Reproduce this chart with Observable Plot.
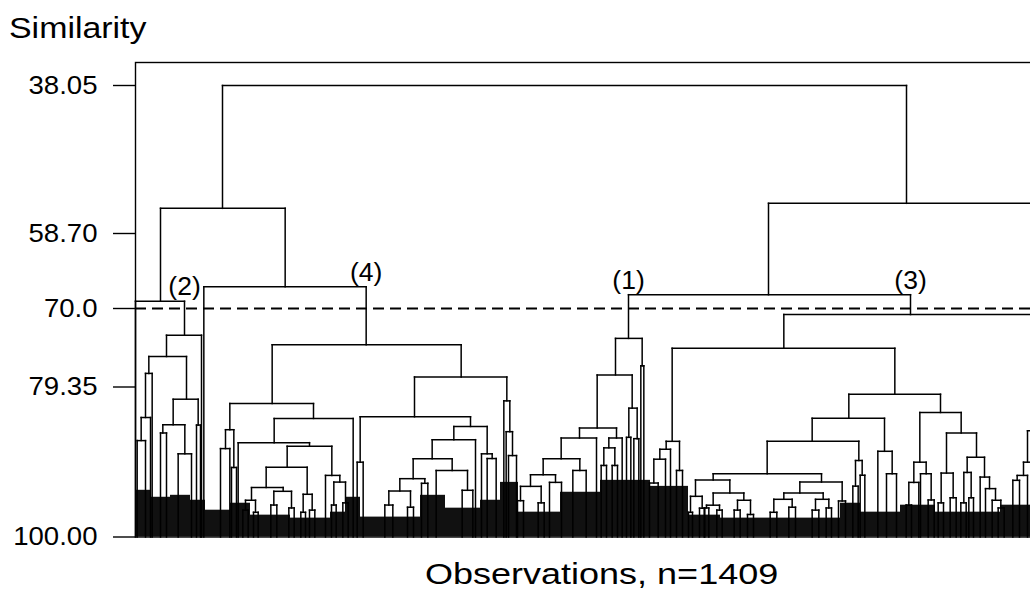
<!DOCTYPE html>
<html><head><meta charset="utf-8">
<script src="https://cdn.jsdelivr.net/npm/d3@7"></script>
<script src="https://cdn.jsdelivr.net/npm/@observablehq/plot@0.6"></script>
<style>
html,body{margin:0;padding:0;background:#fff;overflow:hidden;}
#wrap{position:relative;width:1030px;height:592px;overflow:hidden;background:#fff;}
#wrap svg{position:absolute;left:0;top:0;}
.lbl{position:absolute;font-family:"Liberation Sans",Arial,sans-serif;color:#000;white-space:nowrap;line-height:1;transform-origin:left top;}
</style></head>
<body><div id="wrap"></div>
<script>
// ---------- data ----------
const nObservations = 1409;
const tickValues = [38.05, 58.70, 70.0, 79.35, 100.00];
const tickLabels = ["38.05", "58.70", "70.0", "79.35", "100.00"];
const cutLevel = 70.0;
const clusterNames = ["(2)", "(4)", "(1)", "(3)"];
const clusterNodes = ["A1b", "A2b", "C1", "C3"];

// rows: [node id, parent id, position in leaf order (observation), similarity]
const upperNodes = [
  ["R", null, 643.5, 38.05],
  ["A", "R", 130.5, 55.19],
  ["B", "R", 1156.5, 54.49],
  ["A1", "A", 37.5, 68.91],
  ["A2", "A", 224.5, 66.73],
  ["B1", "B", 949.5, 67.92],
  [null, "B", 1365, 100]
];
const cluster2Nodes = [
  [null, "A1", 0, 100],
  ["A1b", "A1", 73.5, 73.18],
  ["a1", "A1b", 46.5, 75.72],
  ["a11", "a1", 20, 77.73],
  ["a111", "a11", 15, 83.55],
  ["a1111", "a111", 8.5, 86.73],
  [null, "a1111", 2.5, 100], [null, "a1111", 15, 100],
  [null, "a111", 22.5, 100],
  [null, "a11", 25, 100],
  ["a12", "a1", 76.5, 81.03],
  ["a121", "a12", 56.5, 84.55],
  ["a1211", "a121", 41, 85.68],
  [null, "a1211", 37.5, 100], [null, "a1211", 46.5, 100],
  ["a1212", "a121", 74, 88.55],
  [null, "a1212", 64, 100], [null, "a1212", 84, 100],
  ["a122", "a12", 94, 84.59],
  [null, "a122", 91.5, 100], [null, "a122", 97.5, 100],
  [null, "A1b", 99, 100]
];
const cluster4Nodes = [
  [null, "A2", 102.5, 100],
  ["A2b", "A2", 346, 74.32],
  ["b1", "A2b", 205, 81.63],
  ["b11", "b1", 141.5, 85.23],
  ["b111", "b11", 135, 87.83],
  [null, "b111", 127.5, 100], [null, "b111", 141.5, 100],
  ["b112", "b11", 147.5, 90.43],
  [null, "b112", 144, 100], [null, "b112", 151.5, 100],
  ["b12", "b1", 267, 83.68],
  ["b121", "b12", 208, 87.01],
  [null, "b121", 154, 100],
  ["b1212", "b121", 261, 87.51],
  ["b12121", "b1212", 227.5, 90.39],
  ["b121211", "b12121", 196, 93.20],
  ["b1212111", "b121211", 174, 94.94],
  ["f1", "b1212111", 165, 96.3], [null, "f1", 161, 100], [null, "f1", 169, 100],
  ["f2", "b1212111", 180, 96.6], [null, "f2", 177, 100], [null, "f2", 184, 100],
  ["b1212112", "b121211", 221.5, 93.71],
  ["f3", "b1212112", 207.5, 95.6], [null, "f3", 203, 100], [null, "f3", 212, 100],
  ["f4", "b1212112", 234, 96.0], [null, "f4", 230, 100], [null, "f4", 238, 100],
  ["b121212", "b12121", 257.5, 94.12],
  ["f5", "b121212", 251.5, 96.6], [null, "f5", 248, 100], [null, "f5", 255, 100],
  ["f6", "b121212", 265, 96.3], [null, "f6", 261, 100], [null, "f6", 269, 100],
  ["b12122", "b1212", 294.5, 91.52],
  [null, "b12122", 285, 100],
  ["b121222", "b12122", 306.5, 92.44],
  ["f7", "b121222", 297.5, 95.6], [null, "f7", 294, 100], [null, "f7", 301, 100],
  ["f8", "b121222", 315, 95.3], [null, "f8", 311, 100], [null, "f8", 319, 100],
  [null, "b12", 326.5, 100],
  ["b2", "A2b", 488.5, 78.15],
  ["b21", "b2", 418.5, 83.45],
  ["b211", "b21", 337, 89.70],
  [null, "b211", 332.5, 100], [null, "b211", 341.5, 100],
  ["b212", "b21", 502.5, 84.78],
  ["b2121", "b212", 477.5, 86.60],
  ["b21211", "b2121", 445, 89.24],
  ["b212111", "b21211", 416.5, 91.97],
  ["b2121111", "b212111", 396.5, 93.67],
  ["f9", "b2121111", 380, 95.6], [null, "f9", 374, 100], [null, "f9", 386, 100],
  ["f10", "b2121111", 412.5, 95.9], [null, "f10", 408, 100], [null, "f10", 417, 100],
  ["b2121112", "b212111", 434, 92.61],
  [null, "b2121112", 429, 100], [null, "b2121112", 438.5, 100],
  ["b212112", "b21211", 475, 90.84],
  [null, "b212112", 451, 100],
  ["b2121122", "b212112", 498, 93.57],
  [null, "b2121122", 490, 100], [null, "b2121122", 506, 100],
  [null, "b2121", 510, 100],
  ["b2122", "b212", 527.5, 88.55],
  [null, "b2122", 519, 100],
  ["b21222", "b2122", 535, 89.2],
  [null, "b21222", 527.5, 100], [null, "b21222", 541, 100],
  ["b22", "b2", 557, 81.26],
  [null, "b22", 552.5, 100],
  ["b222", "b22", 561.5, 85.50],
  [null, "b222", 556, 100],
  ["b2222", "b222", 565.5, 88.79],
  [null, "b2222", 559.5, 100], [null, "b2222", 571.5, 100]
];
const cluster1Nodes = [
  ["C1", "B1", 739.5, 73.56],
  ["c1", "C1", 720, 77.91],
  ["c11", "c1", 692.5, 85.0],
  ["c111", "c11", 666, 86.37],
  ["c1111", "c111", 638.5, 89.24],
  ["c11111", "c1111", 611.5, 91.43],
  ["c111111", "c11111", 592.5, 93.03],
  ["g1", "c111111", 577.5, 95.0], [null, "g1", 573, 100], [null, "g1", 582, 100],
  ["g2", "c111111", 608.5, 95.3], [null, "g2", 604, 100], [null, "g2", 613, 100],
  ["c111112", "c11111", 630, 92.48],
  [null, "c111112", 621, 100], [null, "c111112", 639, 100],
  ["c11112", "c1111", 666.5, 90.84],
  [null, "c11112", 656, 100], [null, "c11112", 676, 100],
  [null, "c111", 691.5, 100],
  ["c112", "c11", 721.5, 86.37],
  ["c1121", "c112", 710, 87.73],
  ["c11211", "c1121", 702.5, 90.15],
  [null, "c11211", 698.5, 100], [null, "c11211", 706.5, 100],
  ["c11212", "c1121", 719, 90.15],
  [null, "c11212", 715, 100], [null, "c11212", 723, 100],
  [null, "c112", 730, 100],
  ["c12", "c1", 745, 82.26],
  ["c121", "c12", 740, 86.28],
  [null, "c121", 736.5, 100], [null, "c121", 743, 100],
  ["c122", "c12", 752.5, 86.46],
  [null, "c122", 747.5, 100], [null, "c122", 755, 100],
  ["c2", "C1", 760, 76.83],
  [null, "c2", 758, 100], [null, "c2", 762.5, 100]
];
const cluster3Nodes = [
  ["C3", "B1", 1162.5, 70.72],
  ["C3a", "C3", 972.5, 74.73],
  ["d1", "C3a", 805, 86.83],
  ["d11", "d1", 796, 87.92],
  ["d111", "d11", 786.5, 89.29],
  ["d1111", "d111", 777.5, 92.57],
  [null, "d1111", 771, 100], [null, "d1111", 784, 100],
  [null, "d111", 795, 100],
  [null, "d11", 802.5, 100],
  ["d12", "d1", 816, 90.84],
  [null, "d12", 811.5, 100], [null, "d12", 820.5, 100],
  ["d2", "C3a", 1139, 80.35],
  ["d21", "d2", 1070, 83.66],
  ["d211", "d21", 1015, 86.83],
  ["d2111", "d211", 947.5, 91.29],
  ["d21111", "d2111", 866.5, 92.14],
  ["d211111", "d21111", 840, 94.40],
  ["h1", "d211111", 832.5, 96.6], [null, "h1", 829.5, 100], [null, "h1", 835.5, 100],
  ["h2", "d211111", 850, 96.03], [null, "h2", 846, 100], [null, "h2", 854, 100],
  ["d211112", "d21111", 891.5, 93.94],
  ["d2111121", "d211112", 866.5, 95.62],
  ["h3", "d2111121", 856.5, 96.0], [null, "h3", 853, 100], [null, "h3", 860, 100],
  ["h4", "d2111121", 876, 96.3], [null, "h4", 872, 100], [null, "h4", 880, 100],
  ["d2111122", "d211112", 912.5, 94.94],
  ["h5", "d2111122", 903, 96.3], [null, "h5", 898, 100], [null, "h5", 907, 100],
  ["h6", "d2111122", 922.5, 96.9], [null, "h6", 918, 100], [null, "h6", 927, 100],
  ["d21112", "d2111", 1029, 92.44],
  ["d211121", "d21112", 996.5, 93.94],
  ["d2111211", "d211121", 972.5, 94.81],
  ["h7", "d2111211", 957.5, 96.6], [null, "h7", 952, 100], [null, "h7", 962, 100],
  ["h8", "d2111211", 985, 95.9], [null, "h8", 980, 100], [null, "h8", 990, 100],
  ["d2111212", "d211121", 1031.5, 94.81],
  ["h9", "d2111212", 1020, 96.3], [null, "h9", 1015, 100], [null, "h9", 1025, 100],
  ["h10", "d2111212", 1040, 96.0], [null, "h10", 1036, 100], [null, "h10", 1044, 100],
  ["d211122", "d21112", 1060, 95.04],
  [null, "d211122", 1054.5, 100], [null, "d211122", 1065, 100],
  ["d2112", "d211", 1085, 89.47],
  ["h11", "d2112", 1080, 93.0], [null, "h11", 1076, 100], [null, "h11", 1084, 100],
  ["h12", "d2112", 1090, 91.5], [null, "h12", 1087, 100], [null, "h12", 1094, 100],
  ["d212", "d21", 1123.5, 88.20],
  [null, "d212", 1113.5, 100],
  ["d2122", "d212", 1135, 91.29],
  [null, "d2122", 1126.5, 100], [null, "d2122", 1141.5, 100],
  ["d22", "d2", 1207.5, 82.86],
  ["d221", "d22", 1176.5, 89.70],
  ["d2211", "d221", 1167.5, 92.48],
  ["h13", "d2211", 1160, 95.6], [null, "h13", 1156, 100], [null, "h13", 1164, 100],
  [null, "d2211", 1175, 100],
  ["d2212", "d221", 1186, 91.29],
  [null, "d2212", 1177.5, 100],
  ["h14", "d2212", 1193.5, 94.9], [null, "h14", 1189, 100], [null, "h14", 1198, 100],
  ["d222", "d22", 1238.5, 85.68],
  ["d2221", "d222", 1216.5, 91.2],
  ["h15", "d2221", 1208.5, 95.3], [null, "h15", 1204, 100], [null, "h15", 1212, 100],
  ["h16", "d2221", 1226.5, 94.6], [null, "h16", 1222, 100], [null, "h16", 1231, 100],
  ["d2222", "d222", 1261.5, 89.02],
  ["d22221", "d2222", 1247.5, 91.11],
  ["h17", "d22221", 1242.5, 95.3], [null, "h17", 1238, 100], [null, "h17", 1246, 100],
  ["h18", "d22221", 1253.5, 94.6], [null, "h18", 1250, 100], [null, "h18", 1257, 100],
  ["d22222", "d2222", 1273.5, 91.75],
  [null, "d22222", 1267, 100],
  ["d222222", "d22222", 1281, 93.34],
  [null, "d222222", 1275, 100],
  ["d2222222", "d222222", 1290, 94.94],
  [null, "d2222222", 1285, 100],
  ["d22222222", "d2222222", 1298, 96.0],
  [null, "d22222222", 1294, 100], [null, "d22222222", 1303, 100],
  ["C3b", "C3", 1353, 78],
  ["e1", "C3b", 1347, 85.37],
  ["e11", "e1", 1338, 89.70],
  ["e111", "e11", 1332, 91.52],
  ["e1111", "e111", 1322.5, 92.2],
  [null, "e1111", 1316, 100], [null, "e1111", 1326, 100],
  [null, "e111", 1338, 100],
  [null, "e11", 1343, 100],
  [null, "e1", 1355, 100],
  [null, "C3b", 1360, 100]
];
// densely packed low-level merges (too fine to resolve): observation span edges and top similarity
const denseEdges = [0, 22.5, 52.5, 82.5, 105, 142.5, 172.5, 232.5, 292.5, 315, 337.5, 427.5, 465, 517.5, 547.5,
  574.5, 637.5, 697.5, 772.5, 829.5, 877.5, 1057.5, 1087.5, 1147.5, 1200, 1297.5, 1409];
const denseTop = [93.57, 94.53, 94.26, 94.94, 96.31, 95.35, 96.99, 97.40, 96.58, 94.53, 97.26, 94.26, 96.03, 94.94,
  92.48, 96.58, 93.84, 92.20, 93.03, 96.99, 97.40, 95.35, 96.58, 95.62, 96.58, 95.62];

// ---------- build the tree geometry from the data ----------
const nodes = [...upperNodes, ...cluster2Nodes, ...cluster4Nodes, ...cluster1Nodes, ...cluster3Nodes]
  .map(([id, parent, obs, sim]) => ({id, parent, obs, sim}));
const byId = new Map(nodes.filter(n => n.id).map(n => [n.id, n]));
const segments = [];
for (const n of nodes) {
  if (n.parent) segments.push({x1: n.obs, x2: n.obs, y1: n.sim, y2: byId.get(n.parent).sim});
}
for (const [pid, ch] of d3.group(nodes.filter(n => n.parent), n => n.parent)) {
  const p = byId.get(pid);
  segments.push({x1: d3.min(ch, c => c.obs), x2: d3.max(ch, c => c.obs), y1: p.sim, y2: p.sim});
}
const dense = denseTop.map((t, i) => ({x1: denseEdges[i], x2: denseEdges[i + 1], top: t, base: 100}));
const labelRows = clusterNames.map((t, i) => {
  const n = byId.get(clusterNodes[i]);
  return {text: t, obs: n.obs, sim: byId.get(n.parent).sim};
});

const font = "'Liberation Sans', Arial, sans-serif";
const plot = Plot.plot({
  width: 1075, height: 592,
  marginLeft: 135, marginRight: 0, marginTop: 62, marginBottom: 55.5,
  style: `font-family:${font};max-width:none;overflow:hidden;background:white;color:black;`,
  x: {type: "linear", domain: [0, nObservations], range: [135, 135 + nObservations / 1.5], axis: null},
  y: {type: "linear", domain: tickValues, range: [85, 233, 308, 386.5, 536.5]},
  marks: [
    Plot.rect(dense, {x1: "x1", x2: "x2", y1: "top", y2: "base", fill: "#111"}),
    Plot.link(segments, {x1: "x1", y1: "y1", x2: "x2", y2: "y2", stroke: "black", strokeWidth: 1.5, strokeLinecap: "square"}),
    Plot.ruleY([cutLevel], {stroke: "black", strokeWidth: 2, strokeDasharray: "11,6"}),
    Plot.frame({stroke: "black", strokeWidth: 1.4}),
    Plot.axisY(tickValues, {tickFormat: d => tickLabels[tickValues.indexOf(d)], tickSize: 22, tickPadding: 16, fontSize: 26, label: null, strokeWidth: 1.4}),
    Plot.text(labelRows, {x: "obs", y: "sim", text: "text", fontSize: 25, lineAnchor: "bottom", dy: -6, fill: "black"})
  ]
});
const wrap = document.getElementById("wrap");
wrap.appendChild(plot);
plot.querySelectorAll("text").forEach(t => {
  const w = t.getComputedTextLength();
  t.setAttribute("textLength", (w * 1.06).toFixed(1));
  t.setAttribute("lengthAdjust", "spacingAndGlyphs");
});
function addLabel(text, left, top, size, sx) {
  const d = document.createElement("div");
  d.className = "lbl";
  d.textContent = text;
  d.style.left = left + "px"; d.style.top = top + "px";
  d.style.fontSize = size + "px"; d.style.transform = `scaleX(${sx})`;
  wrap.appendChild(d);
}
addLabel("Similarity", 9, 13, 30, 1.13);
addLabel("Observations, n=1409", 425, 559, 30, 1.2);
</script></body></html>
